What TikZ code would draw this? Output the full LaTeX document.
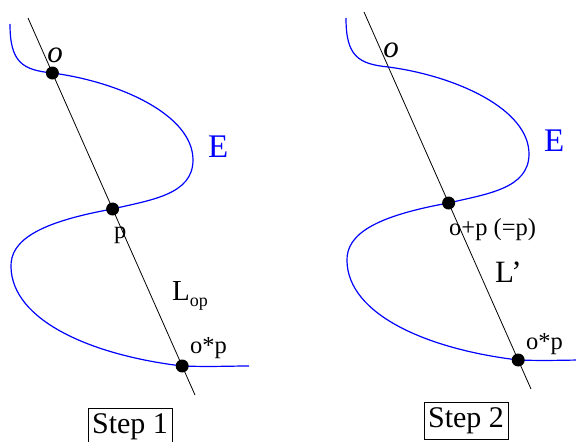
\documentclass[tikz,border=0pt]{standalone}
\usepackage{fontspec}
\setmainfont{Liberation Serif}
\begin{document}
\begin{tikzpicture}[x=1pt,y=-1pt,
  curve/.style={draw=blue, line width=1.2pt},
  secant/.style={draw=black, line width=0.8pt},
  dot/.style={circle, fill=black, inner sep=0pt, minimum size=13pt},
  big/.style={font=\fontsize{29}{32}\selectfont, inner sep=0pt},
  small/.style={font=\fontsize{24.5}{27}\selectfont, inner sep=0pt},
  elabel/.style={font=\fontsize{33}{36}\selectfont, inner sep=0pt, text=blue},
  stepbox/.style={draw, line width=0.8pt, minimum width=84pt, minimum height=37pt, inner sep=0pt, font=\fontsize{30}{32}\selectfont}]
\useasboundingbox (0,0) rectangle (576,442);
% ---------- left panel ----------
\coordinate (L-top) at (28,18);
\coordinate (L-bot) at (195,395);
\coordinate (L-o) at (52.4,73);
\coordinate (L-p) at (112.6,209);
\coordinate (L-op) at (182.2,366);
\draw[secant] (L-top) -- (L-bot);
\draw[curve] (10,24) .. controls (10,62) and (22,70) .. (L-o)
  .. controls (120,82) and (193,115) .. (193,160)
  .. controls (193,195) and (150,200) .. (L-p)
  .. controls (40,222) and (10,240) .. (11,267)
  .. controls (12,320) and (90,355) .. (L-op)
  .. controls (210,367) and (230,366) .. (249,366);
\node[dot] (L-dot-o) at (L-o) {};
\node[dot] (L-dot-p) at (L-p) {};
\node[dot] (L-dot-op) at (L-op) {};
\node[big, anchor=base, font=\fontsize{31}{34}\selectfont] (L-olab) at (55,62) {\itshape o};
\node[elabel, anchor=base west] (L-E) at (208,157) {E};
\node[small, anchor=base west] (L-plab) at (114,238) {p};
\node[big, anchor=base west] (L-line) at (172,300) {L\raisebox{-6pt}{\fontsize{18}{20}\selectfont op}};
\node[small, anchor=base west] (L-oplab) at (190,353) {o*p};
\node[stepbox] (L-step) at (130,427) {Step 1};
% ---------- right panel ----------
\begin{scope}[shift={(336,-6)}]
\coordinate (R-top) at (28,18);
\coordinate (R-bot) at (195,395);
\coordinate (R-o) at (52.4,73);
\coordinate (R-p) at (112.6,209);
\coordinate (R-op) at (182.2,366);
\draw[secant] (R-top) -- (R-bot);
\draw[curve] (10,24) .. controls (10,62) and (22,70) .. (R-o)
  .. controls (120,82) and (193,115) .. (193,160)
  .. controls (193,195) and (150,200) .. (R-p)
  .. controls (40,222) and (10,240) .. (11,267)
  .. controls (12,320) and (90,355) .. (R-op)
  .. controls (210,367) and (230,366) .. (249,366);
\node[dot] (R-dot-p) at (R-p) {};
\node[dot] (R-dot-op) at (R-op) {};
\end{scope}
\node[big, anchor=base, font=\fontsize{31}{34}\selectfont] (R-olab) at (391,57) {\itshape o};
\node[elabel, anchor=base west] (R-E) at (544,151) {E};
\node[small, anchor=base west] (R-pluslab) at (449,235) {o+p (=p)};
\node[big, anchor=base west, font=\fontsize{31}{34}\selectfont] (R-line) at (495,282) {L’};
\node[small, anchor=base west] (R-oplab) at (526,349) {o*p};
\node[stepbox] (R-step) at (466,420.5) {Step 2};
\end{tikzpicture}
\end{document}
